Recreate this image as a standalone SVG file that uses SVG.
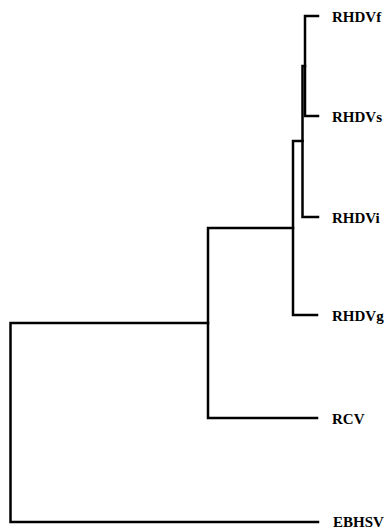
<svg xmlns="http://www.w3.org/2000/svg" width="386" height="529" viewBox="0 0 386 529">
<style>
.br{fill:none;stroke:#000;stroke-width:2.5;stroke-linecap:square;stroke-linejoin:miter}
.lb{font-family:"Liberation Serif","Times New Roman",serif;font-weight:bold;font-size:15px;fill:#000}
</style>
<rect width="386" height="529" fill="#fff"/>
<g id="connectors">
<path class="br" d="M318,16 H305 V116 H318"/>
<path class="br" d="M305,66 H302.5 V217 H318"/>
<path class="br" d="M302.5,141 H293 V315 H317"/>
<path class="br" d="M293,228 H208 V418 H317"/>
<path class="br" d="M208,323 H10.5 V522 H318"/>
</g>
<g id="RHDVf"><text class="lb" x="332" y="21.5">RHDVf</text></g>
<g id="RHDVs"><text class="lb" x="332" y="121.5">RHDVs</text></g>
<g id="RHDVi"><text class="lb" x="332" y="222.5">RHDVi</text></g>
<g id="RHDVg"><text class="lb" x="332" y="320.5">RHDVg</text></g>
<g id="RCV"><text class="lb" x="332" y="423.5">RCV</text></g>
<g id="EBHSV"><text class="lb" x="333" y="527">EBHSV</text></g>
</svg>
